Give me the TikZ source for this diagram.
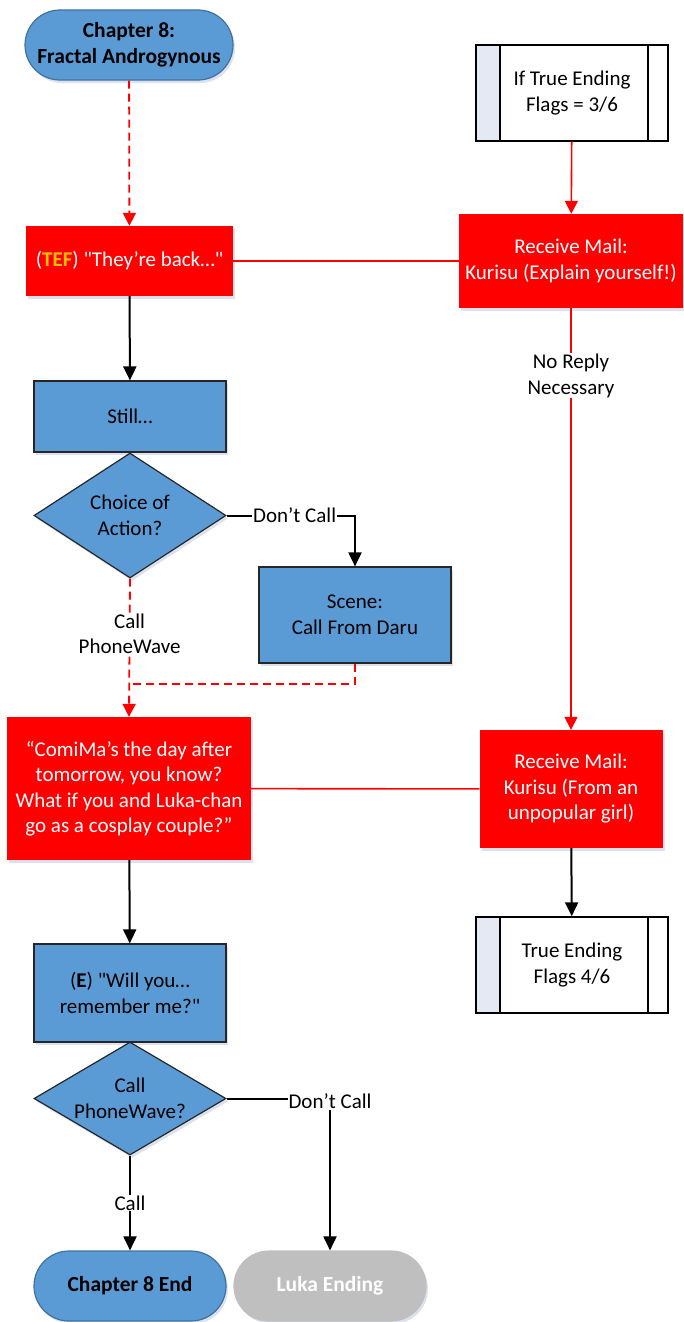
\documentclass[tikz,border=0pt]{standalone}
\usepackage{fontspec}
\setmainfont{Carlito}
\usetikzlibrary{shapes.geometric,shapes.misc,arrows.meta,shadows}
\definecolor{bfill}{HTML}{5B9BD5}
\definecolor{bedge}{HTML}{41719C}
\definecolor{rfill}{HTML}{FF0000}
\definecolor{gfill}{HTML}{BFBFBF}
\definecolor{tefc}{HTML}{FFC000}
\definecolor{shad}{HTML}{D3DAE8}
\definecolor{pband}{HTML}{E4E9F4}
\newcommand{\dq}{\textquotedbl}
\begin{document}
\begin{tikzpicture}[x=1pt,y=1pt,
  every node/.style={font=\fontsize{21}{25.5}\selectfont},
  shd/.style={drop shadow={shadow xshift=2pt,shadow yshift=-3pt,fill=shad,opacity=0.8}},
  termbox/.style={rounded rectangle, fill=bfill, draw=bedge, line width=1.2pt, minimum width=208pt, minimum height=70pt, inner sep=0pt, align=center, font=\fontsize{21.5}{26}\selectfont\bfseries, shd},
  greyterm/.style={rounded rectangle, fill=gfill, draw=gfill, text=white, line width=1.2pt, minimum width=192pt, minimum height=70pt, inner sep=0pt, align=center, font=\fontsize{21.5}{26}\selectfont\bfseries, shd},
  bluebox/.style={rectangle, fill=bfill, draw=black!85, line width=1.2pt, inner sep=0pt, align=center, shd},
  redbox/.style={rectangle, fill=rfill, draw=none, text=white, inner sep=0pt, align=center, shd},
  decide/.style={diamond, fill=bfill, draw=black!85, line width=1.2pt, inner sep=0pt, aspect=1.55, align=center, shd},
  predef/.style={rectangle, fill=white, draw=black, line width=1.4pt, minimum width=192pt, minimum height=96pt, inner sep=0pt, align=center,
    path picture={
      \fill[pband] (path picture bounding box.north west) rectangle ([xshift=24pt]path picture bounding box.south west);
      \draw[line width=1.4pt] ([xshift=24pt]path picture bounding box.north west) -- ([xshift=24pt]path picture bounding box.south west);
      \draw[line width=1.4pt] ([xshift=-20pt]path picture bounding box.north east) -- ([xshift=-20pt]path picture bounding box.south east);
    }},
  bline/.style={draw=black, line width=2pt, -{Triangle[length=14pt,width=13pt]}},
  bplain/.style={draw=black, line width=2pt},
  rline/.style={draw=rfill, line width=1.6pt},
  rarrow/.style={draw=rfill, line width=1.6pt, -{Triangle[length=13pt,width=13pt]}},
  rdash/.style={draw=rfill, line width=1.8pt, dash pattern=on 8pt off 5pt},
  lbl/.style={fill=white, inner sep=1pt, align=center}
]
\useasboundingbox (0,0) rectangle (683,-1322);

% nodes
\node[termbox] (start) at (129,-45) {Chapter 8:\\Fractal Androgynous};
\node[predef] (p1) at (572,-93) {If True Ending\\Flags = 3/6};
\node[redbox, minimum width=207pt, minimum height=70pt] (tef) at (129.5,-261) {(\textcolor{tefc}{\bfseries TEF}) \dq They’re back…\dq};
\node[redbox, minimum width=224pt, minimum height=94pt] (rm1) at (571,-261) {Receive Mail:\\Kurisu (Explain yourself!)};
\node[bluebox, minimum width=192pt, minimum height=71pt] (still) at (130,-416.5) {Still…};
\node[decide, minimum width=192pt, minimum height=125pt] (d1) at (130,-515.5) {Choice of\\Action?};
\node[bluebox, minimum width=192pt, minimum height=96pt] (scene) at (355,-615) {Scene:\\Call From Daru};
\node[redbox, minimum width=244pt, minimum height=143pt] (big) at (129,-788.5) {“ComiMa’s the day after\\tomorrow, you know?\\What if you and Luka-chan\\go as a cosplay couple?”};
\node[redbox, minimum width=183pt, minimum height=118pt] (rm2) at (571,-789) {Receive Mail:\\Kurisu (From an\\unpopular girl)};
\node[predef] (p2) at (572,-965) {True Ending\\Flags 4/6};
\node[bluebox, minimum width=192pt, minimum height=98pt] (e) at (130,-993) {(\textbf{E}) \dq Will you…\\remember me?\dq};
\node[decide, minimum width=192pt, minimum height=113pt] (d2) at (130,-1098.5) {Call\\PhoneWave?};
\node[termbox, minimum width=192pt] (ch8end) at (130,-1286) {Chapter 8 End};
\node[greyterm] (luka) at (330,-1286) {Luka Ending};

\coordinate (j) at (130,-684);

% connectors
\draw[rdash, -{Triangle[length=13pt,width=13pt]}] (start) -- (tef);
\draw[rarrow] (p1) -- (rm1);
\draw[rline] (tef) -- (rm1);
\draw[bline] (tef) -- (still);
\draw[bplain] (d1.east) -- node[lbl, pos=0.53] (lbl1) {Don’t Call} (355,-515.5) -- (355,-530);
\draw[bline] (355,-528) -- (scene.north);
\draw[rdash, -{Triangle[length=13pt,width=13pt]}] (d1.south) -- node[lbl, pos=0.4] (lbl2) {Call\\PhoneWave} (big.north);
\draw[rdash] (scene.south) |- (j);
\draw[rarrow] (rm1) -- node[lbl, pos=0.16] (lbl3) {No Reply\\Necessary} (rm2);
\draw[rline] (big) -- (rm2);
\draw[bline] (rm2) -- (p2);
\draw[bline] (big) -- (e);
\draw[bline] (d2.east) -| node[lbl, pos=0.5, yshift=-3pt] (lbl4) {Don’t Call} (luka.north);
\draw[bline] (d2.south) -- node[lbl] (lbl5) {Call} (ch8end.north);
\end{tikzpicture}
\end{document}
